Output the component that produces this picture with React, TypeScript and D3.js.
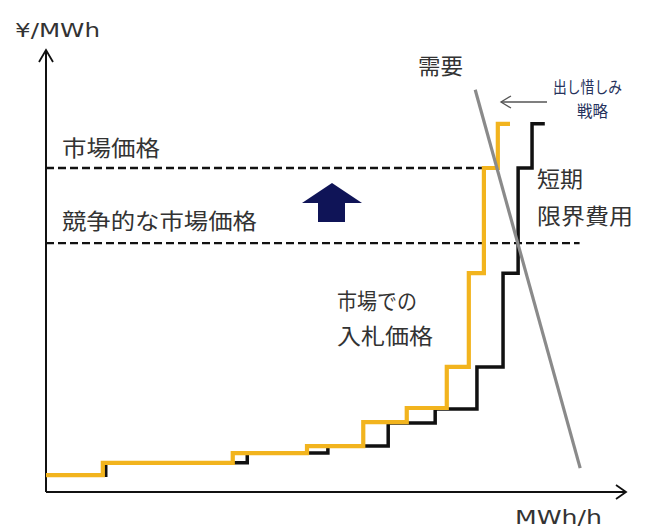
import React from "react";
import * as d3 from "d3";

// Supply curves: [quantity, price] step points (step-after)
const bidCurve: [number, number][] = [
  [0, 3.8], [9.8, 6.6], [32.2, 8.8], [45, 10.4], [54.7, 15.8], [62.2, 19],
  [69.1, 28.3], [72.9, 49.5], [75.5, 73.3], [77.9, 83.3], [80, 83.3],
];
const marginalCostCurve: [number, number][] = [
  [0, 3.8], [10.3, 6.6], [34.7, 8.8], [48.6, 10.4], [59, 15.6], [67.1, 18.8],
  [74.3, 28.3], [78.8, 49.5], [81.4, 73.3], [83.8, 83.3], [86, 83.3],
];
const demandLine: [number, number][] = [[74, 91], [92.1, 5.4]];
const marketPrice = 73.3;
const marketPriceEnd = 75.5;
const competitivePrice = 56.3;
const competitivePriceEnd = 92;

const W = 645, H = 529;
const FONT = "'Noto Sans CJK JP', 'Noto Sans', sans-serif";
const LATIN = "Verdana, 'DejaVu Sans', sans-serif";
const TXT = "#333";

export default function App() {
  const x = d3.scaleLinear().domain([0, 100]).range([46, 626]);
  const y = d3.scaleLinear().domain([0, 100]).range([492, 50]);
  const step = d3.line<[number, number]>().x(d => x(d[0])).y(d => y(d[1])).curve(d3.curveStepAfter);
  const straight = d3.line<[number, number]>().x(d => x(d[0])).y(d => y(d[1]));

  const x0 = x(0), y0 = y(0), xEnd = x(100), yTop = y(100);

  const T = (p: { x: number; y: number; s: string; size: number; len: number; fill?: string; family?: string; anchor?: string }) => (
    <text x={p.x} y={p.y} fontSize={p.size} fontFamily={p.family || FONT} fill={p.fill || TXT}
      textLength={p.len} lengthAdjust="spacingAndGlyphs" textAnchor={p.anchor || "start"}>{p.s}</text>
  );

  return (
    <svg width={W} height={H} style={{ position: "absolute", left: 0, top: 0, background: "#fff" }}>
      {/* axes */}
      <g stroke="#111" strokeWidth={2} fill="none">
        <line x1={x0} y1={y0} x2={x0} y2={yTop} />
        <line x1={x0} y1={y0} x2={xEnd} y2={y0} />
        <polyline points={`${x0 - 7},${yTop + 12} ${x0},${yTop} ${x0 + 7},${yTop + 12}`} strokeWidth={1.8} />
        <polyline points={`${xEnd - 10},${y0 - 7} ${xEnd},${y0} ${xEnd - 10},${y0 + 7}`} strokeWidth={1.8} />
      </g>
      {/* dashed price lines */}
      <g stroke="#111" strokeWidth={2.3} strokeDasharray="8,4">
        <line x1={x0} x2={x(marketPriceEnd)} y1={y(marketPrice)} y2={y(marketPrice)} />
        <line x1={x0} x2={x(competitivePriceEnd)} y1={y(competitivePrice)} y2={y(competitivePrice)} />
      </g>
      {/* curves */}
      <path d={step(marginalCostCurve) || ""} fill="none" stroke="#111" strokeWidth={3.5} />
      <path d={step(bidCurve) || ""} fill="none" stroke="#F2B41E" strokeWidth={4.2} />
      <path d={straight(demandLine) || ""} fill="none" stroke="#8a8a8a" strokeWidth={3.2} />
      {/* blue up arrow */}
      <polygon points="332,183 362,203 345,203 345,222 318,222 318,203 302,203" fill="#0f1457" />
      {/* small arrow */}
      <g stroke="#555" strokeWidth={1.3} fill="none">
        <line x1={547} y1={102} x2={501} y2={102} />
        <polyline points="511,96 501,102 511,108" />
      </g>
      {/* texts */}
      {T({ x: 15, y: 37, s: "¥/MWh", size: 20, len: 85, family: LATIN })}
      {T({ x: 515, y: 524, s: "MWh/h", size: 20, len: 87, family: LATIN })}
      {T({ x: 62, y: 156, s: "市場価格", size: 22, len: 98 })}
      {T({ x: 62, y: 229, s: "競争的な市場価格", size: 22, len: 195 })}
      {T({ x: 337, y: 309, s: "市場での", size: 22, len: 80 })}
      {T({ x: 337, y: 344, s: "入札価格", size: 22, len: 96 })}
      {T({ x: 537, y: 187, s: "短期", size: 22, len: 46 })}
      {T({ x: 537, y: 224, s: "限界費用", size: 22, len: 96 })}
      {T({ x: 418, y: 74, s: "需要", size: 22, len: 45 })}
      {T({ x: 553, y: 93, s: "出し惜しみ", size: 16, len: 69, fill: "#26325c" })}
      {T({ x: 577, y: 117, s: "戦略", size: 16, len: 31, fill: "#26325c" })}
    </svg>
  );
}
